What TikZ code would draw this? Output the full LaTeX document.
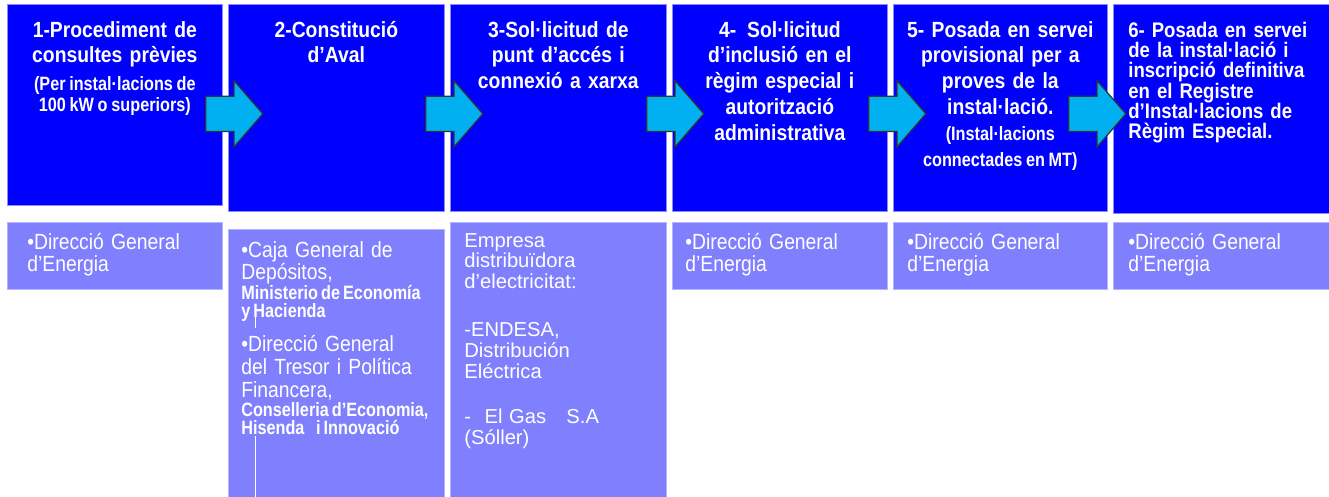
\documentclass[tikz,border=0pt]{standalone}
\usepackage{fontspec}
\setmainfont{Liberation Sans}[FakeStretch=0.88]
\newfontfamily\notefamily{Liberation Sans}[FakeStretch=0.84]
\newfontfamily\plainfamily{Liberation Sans}
\usetikzlibrary{shapes.arrows,calc}
\definecolor{stepblue}{RGB}{0,0,255}
\definecolor{orgblue}{RGB}{128,128,255}
\definecolor{arrowcyan}{RGB}{0,176,240}
\newcommand{\notefont}{\notefamily\bfseries\fontsize{11}{14.74}\selectfont\spaceskip=0.16em plus 0.05em\relax}

\begin{document}
\begin{tikzpicture}[
    x=0.02cm, y=-0.02cm,
    % Style for the dark blue step boxes
    step box/.style={rectangle, anchor=north west, fill=stepblue, draw=blue!45, line width=0.4pt, inner sep=0pt},
    % Style for the light blue boxes below them
    org box/.style={rectangle, anchor=north west, fill=orgblue, draw=orgblue!60, line width=0.4pt, inner sep=0pt},
    % Style for the cyan block arrows
    flow arrow/.style={
        single arrow, fill=arrowcyan, draw=black!80, line width=0.7pt,
        minimum height=1.14cm, inner xsep=0pt, inner ysep=0.34cm,
        single arrow head extend=0.31cm, single arrow tip angle=98
    },
    step text/.style={text=white, inner sep=0pt, anchor=base, align=center, text width=4.2cm,
        font=\fontsize{12.5}{14.74}\selectfont\bfseries},
    org text/.style={text=white, inner sep=0pt, anchor=base west, align=left, text width=4cm,
        font=\fontsize{12.5}{13.05}\selectfont}
]
    \useasboundingbox (0,0) rectangle (1329,497);

    % --- 1. Step Boxes (Top Row) ---
    \node[step box, minimum width=4.30cm, minimum height=4.02cm] (step1) at (7,4) {};
    \node[step box, minimum width=4.32cm, minimum height=4.14cm] (step2) at (228,4) {};
    \node[step box, minimum width=4.32cm, minimum height=4.14cm] (step3) at (450,4) {};
    \node[step box, minimum width=4.30cm, minimum height=4.14cm] (step4) at (672,4) {};
    \node[step box, minimum width=4.28cm, minimum height=4.14cm] (step5) at (893,4) {};
    \node[step box, minimum width=4.40cm, minimum height=4.18cm] (step6) at (1113,4) {};

    % --- 2. Organisation Boxes (Bottom Row) ---
    \node[org box, minimum width=4.30cm, minimum height=1.34cm] (org1) at (7,222) {};
    \node[org box, minimum width=4.32cm, minimum height=5.60cm] (org2) at (228,229) {};
    \node[org box, minimum width=4.32cm, minimum height=5.70cm] (org3) at (450,222) {};
    \node[org box, minimum width=4.30cm, minimum height=1.34cm] (org4) at (672,222) {};
    \node[org box, minimum width=4.28cm, minimum height=1.34cm] (org5) at (893,222) {};
    \node[org box, minimum width=4.40cm, minimum height=1.34cm] (org6) at (1113,222) {};

    % thin white stroke left in the second box
    \draw[white, line width=0.5pt] (255,316) -- (255,328);
    \draw[white, line width=0.5pt] (255,436) -- (255,500);

    % --- 3. Step Texts ---
    \node[step text] (head1) at ($(step1.north)+(0,33)$)
        {1-Procediment de\\consultes prèvies\\[1pt]{\notefont (Per instal·lacions de}\\[-2.8pt]{\notefont 100 kW o superiors)}};
    \node[step text] (head2) at ($(step2.north)+(0,33)$)
        {2-Constitució\\d’Aval};
    \node[step text] (head3) at ($(step3.north)+(0,33)$)
        {3-Sol·licitud de\\punt d’accés i\\connexió a xarxa};
    \node[step text] (head4) at ($(step4.north)+(0,33)$)
        {4-\hspace{0.5em}Sol·licitud\\d’inclusió en el\\règim especial i\\autorització\\administrativa};
    \node[step text] (head5) at ($(step5.north)+(0,33)$)
        {5- Posada en servei\\provisional per a\\proves de la\\instal·lació.\\{\notefont (Instal·lacions}\\{\notefont connectades en MT)}};
    \node[step text, anchor=base west, align=left, font=\fontsize{12}{11.6}\selectfont\bfseries] (head6)
        at ($(step6.north west)+(15,33)$)
        {6- Posada en servei\\de la instal·lació i\\inscripció definitiva\\en el Registre\\d’Instal·lacions de\\Règim Especial.};

    % --- 4. Organisation Texts ---
    \node[org text] (body1) at ($(org1.north west)+(20,27)$) {•Direcció General\\d’Energia};
    \node[org text] (body2) at ($(org2.north west)+(13,28)$)
        {•Caja General de\\Depósitos,\\[-2pt]{\notefont Ministerio de Economía}\\[-3pt]{\notefont y Hacienda}\\[6.8pt]%
         •Direcció General\\del Tresor i Política\\Financera,\\[-2.3pt]{\notefont Conselleria d’Economia,}\\[-2.8pt]{\notefont Hisenda\hspace{0.6em}i Innovació}};
    \node[org text, font=\plainfamily\fontsize{11.5}{11.9}\selectfont] (body3) at ($(org3.north west)+(14,25)$)
        {Empresa\\distribuïdora\\d’electricitat:\\[15.3pt]-ENDESA,\\Distribución\\Eléctrica\\[14pt]-\ \ El Gas\ \ \ S.A\\(Sóller)};
    \node[org text] (body4) at ($(org4.north west)+(13,27)$) {•Direcció General\\d’Energia};
    \node[org text] (body5) at ($(org5.north west)+(14,27)$) {•Direcció General\\d’Energia};
    \node[org text] (body6) at ($(org6.north west)+(15,27)$) {•Direcció General\\d’Energia};

    % --- 5. Block Arrows Between Steps ---
    \node[flow arrow] (arr12) at ($(step1.east)+(4,9)$) {};
    \node[flow arrow] (arr23) at ($(step2.east)+(2,6)$) {};
    \node[flow arrow] (arr34) at ($(step3.east)+(1,6)$) {};
    \node[flow arrow] (arr45) at ($(step4.east)+(2,6)$) {};
    \node[flow arrow] (arr56) at ($(step5.east)+(-18,6)$) {};

\end{tikzpicture}
\end{document}
